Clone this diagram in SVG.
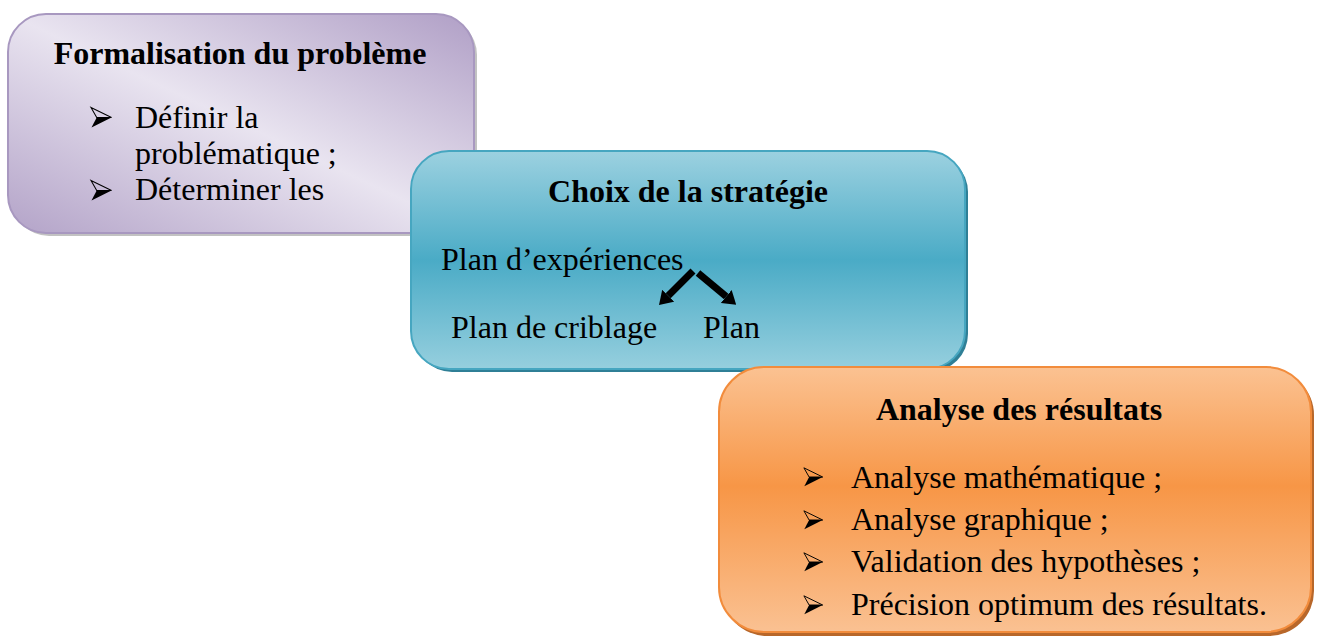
<svg xmlns="http://www.w3.org/2000/svg" width="1324" height="640" viewBox="0 0 1324 640">
  <defs>
    <linearGradient id="gPurple" x1="1" y1="0" x2="0" y2="1">
      <stop offset="0" stop-color="#b09fc6"/>
      <stop offset="0.5" stop-color="#e9e4f0"/>
      <stop offset="1" stop-color="#b3a3c8"/>
    </linearGradient>
    <linearGradient id="gTeal" x1="0" y1="0" x2="0" y2="1">
      <stop offset="0" stop-color="#9cd1e0"/>
      <stop offset="0.5" stop-color="#4aabc6"/>
      <stop offset="1" stop-color="#96cfde"/>
    </linearGradient>
    <linearGradient id="gOrange" x1="0" y1="0" x2="0" y2="1">
      <stop offset="0" stop-color="#fbc292"/>
      <stop offset="0.45" stop-color="#f79646"/>
      <stop offset="1" stop-color="#fac192"/>
    </linearGradient>
    <!-- arrowhead bullet: outlined upper facet, solid lower facet -->
    <symbol id="bullet" viewBox="0 0 24 22" overflow="visible">
      <path d="M1,0.5 L22.5,11 L7,11 Z" fill="none" stroke="#000" stroke-width="1.1" stroke-linejoin="miter"/>
      <path d="M7,11 L22.5,11 L1.5,21.5 Z" fill="#000"/>
    </symbol>
    <marker id="head" viewBox="0 0 13 17" refX="0" refY="8.5" markerWidth="13" markerHeight="17" orient="auto" markerUnits="userSpaceOnUse">
      <path d="M0,0 L13,8.5 L0,17 Z" fill="#000"/>
    </marker>
  </defs>
  <style>
    .title { font-family: "Liberation Serif", "Times New Roman", serif; font-weight: bold; font-size: 32px; fill: #000; }
    .body { font-family: "Liberation Serif", "Times New Roman", serif; font-size: 32px; fill: #000; }
    .arrow { stroke: #000; stroke-width: 7; fill: none; marker-end: url(#head); }
  </style>

  <rect width="1324" height="640" fill="#ffffff"/>

  <!-- Step 1: problem formalisation -->
  <g id="node-formalisation">
    <rect x="11" y="17" width="466" height="219" rx="38" fill="#8f8f8f" opacity="0.55"/>
    <rect x="8" y="14" width="466" height="219" rx="38" fill="url(#gPurple)" stroke="#a898c0" stroke-width="2"/>
    <text class="title" x="240" y="64" text-anchor="middle">Formalisation du problème</text>
    <use href="#bullet" x="90" y="107" width="23" height="21"/>
    <text class="body" x="135" y="128">Définir la</text>
    <text class="body" x="135" y="164">problématique ;</text>
    <use href="#bullet" x="90" y="180" width="23" height="21"/>
    <text class="body" x="135" y="200">Déterminer les</text>
  </g>

  <!-- Step 2: strategy choice -->
  <g id="node-strategie">
    <rect x="414" y="154" width="554" height="218" rx="38" fill="#2f7f96"/>
    <rect x="411" y="151" width="554" height="218" rx="38" fill="url(#gTeal)" stroke="#46a6c0" stroke-width="2"/>
    <text class="title" x="688" y="202" text-anchor="middle">Choix de la stratégie</text>
    <text class="body" x="441" y="270">Plan d’expériences</text>
    <text class="body" x="451" y="338">Plan de criblage</text>
    <text class="body" x="703" y="338">Plan</text>
  </g>

  <!-- Step 3: results analysis -->
  <g id="node-analyse">
    <rect x="722" y="370" width="592" height="266" rx="45" fill="#b8672a"/>
    <rect x="719" y="367" width="592" height="265" rx="45" fill="url(#gOrange)" stroke="#f28c3c" stroke-width="2"/>
    <text class="title" x="1019" y="420" text-anchor="middle">Analyse des résultats</text>
    <use href="#bullet" x="803" y="467" width="21" height="20"/>
    <text class="body" x="851" y="488">Analyse mathématique ;</text>
    <use href="#bullet" x="803" y="510" width="21" height="20"/>
    <text class="body" x="851" y="530">Analyse graphique ;</text>
    <use href="#bullet" x="803" y="552" width="21" height="20"/>
    <text class="body" x="851" y="572">Validation des hypothèses ;</text>
    <use href="#bullet" x="803" y="595" width="21" height="20"/>
    <text class="body" x="851" y="615">Précision optimum des résultats.</text>
  </g>

  <!-- Branching arrows inside the strategy box -->
  <g id="connectors">
    <line class="arrow" x1="693" y1="271" x2="668.2" y2="295.8"/>
    <line class="arrow" x1="698" y1="273" x2="726.2" y2="296.5"/>
  </g>
</svg>
